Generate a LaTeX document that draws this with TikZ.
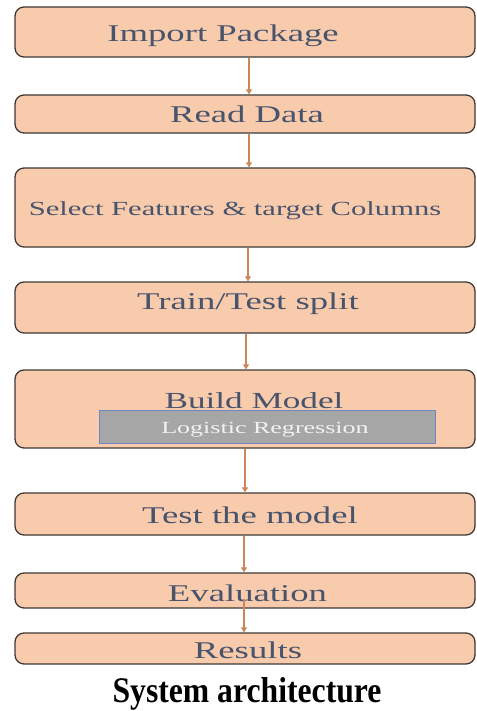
\documentclass[tikz,border=0pt]{standalone}
\usepackage{fontspec}
\setmainfont{Liberation Serif}
\newfontfamily\boxfont[FakeStretch=1.53]{Liberation Serif}
\newfontfamily\capfont[FakeStretch=0.88]{Liberation Serif}
\usetikzlibrary{arrows.meta}
\definecolor{peach}{HTML}{F8CBAD}
\definecolor{boxline}{HTML}{3F3A36}
\definecolor{labeltext}{HTML}{48536C}
\definecolor{flow}{HTML}{C8885A}
\definecolor{algofill}{HTML}{A6A6A6}
\definecolor{algoline}{HTML}{6A88C4}
\tikzset{
  stage/.style={draw=boxline, line width=1.3pt, fill=peach, rounded corners=9pt,
    minimum width=460pt, inner sep=0pt},
  stagetext/.style={anchor=base, inner sep=0pt, text=labeltext,
    font=\boxfont\fontsize{24}{24}\selectfont},
  algo/.style={draw=algoline, line width=1pt, fill=algofill, minimum width=336pt,
    minimum height=33pt, inner sep=0pt},
  flowarrow/.style={draw=flow, line width=1.1pt, -{Triangle[width=6pt,length=5pt]}}
}
\begin{document}
\begin{tikzpicture}[x=1pt, y=-1pt]
  \fill[white] (0,0) rectangle (476,711);
  \useasboundingbox (0,0) rectangle (476,711);

  % stage boxes
  \node[stage, minimum height=50pt] (b1) at (245,32) {};
  \node[stage, minimum height=38pt] (b2) at (245,114) {};
  \node[stage, minimum height=79pt] (b3) at (245,207.5) {};
  \node[stage, minimum height=51pt] (b4) at (245,307.5) {};
  \node[stage, minimum height=78pt] (b5) at (245,409) {};
  \node[stage, minimum height=42pt] (b6) at (245,514) {};
  \node[stage, minimum height=35pt] (b7) at (245,590.5) {};
  \node[stage, minimum height=31pt] (b8) at (245,648.5) {};

  % model box inside "Build Model"
  \node[algo] (alg) at (267,426.5) {};

  % labels
  \node[stagetext] (t1) at (223,42) {Import Package};
  \node[stagetext] (t2) at (247,123) {Read Data};
  \node[stagetext, font=\boxfont\fontsize{20}{20}\selectfont] (t3) at (235,215) {Select Features \& target Columns};
  \node[stagetext] (t4) at (248,309) {Train/Test split};
  \node[stagetext, font=\boxfont\fontsize{23}{23}\selectfont] (t5) at (254,408) {Build Model};
  \node[stagetext, text=white!95!black, font=\boxfont\fontsize{17}{17}\selectfont] (t5a) at (265,433) {Logistic Regression};
  \node[stagetext] (t6) at (250,523) {Test the model};
  \node[stagetext] (t7) at (247.5,601) {Evaluation};
  \node[stagetext] (t8) at (248,658) {Results};

  % caption
  \node[anchor=base, inner sep=0pt, font=\capfont\bfseries\fontsize{36}{36}\selectfont] (cap) at (247,702) {System architecture};

  % flow arrows
  \draw[flowarrow] ([xshift=4pt]b1.south) -- ([xshift=4pt]b2.north);
  \draw[flowarrow] ([xshift=4pt]b2.south) -- ([xshift=4pt]b3.north);
  \draw[flowarrow] ([xshift=3pt]b3.south) -- ([xshift=3pt]b4.north);
  \draw[flowarrow] ([xshift=1pt]b4.south) -- ([xshift=1pt]b5.north);
  \draw[flowarrow] (b5.south) -- (b6.north);
  \draw[flowarrow] ([xshift=-1pt]b6.south) -- ([xshift=-1pt]b7.north);
  \draw[flowarrow] ([xshift=-1pt,yshift=10pt]b7.south) -- ([xshift=-1pt]b8.north);
\end{tikzpicture}
\end{document}
